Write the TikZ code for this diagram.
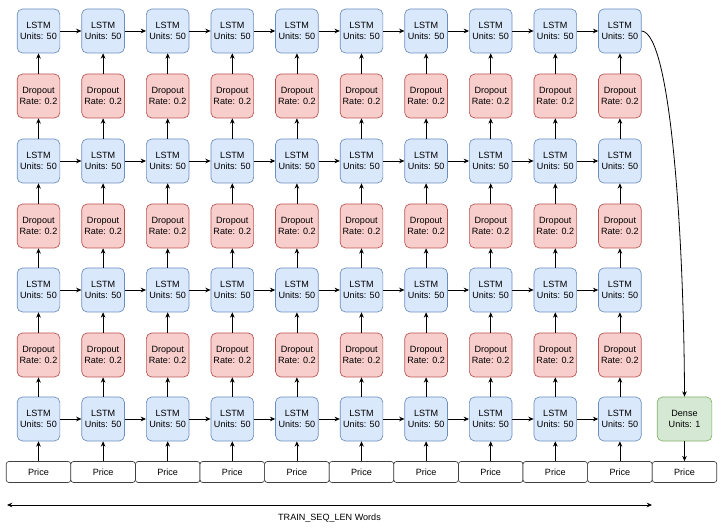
\documentclass[tikz,border=0pt]{standalone}
\usepackage{fontspec}
\setmainfont{Liberation Sans}
\usetikzlibrary{arrows.meta}

\definecolor{lstmfill}{HTML}{DAE8FC}
\definecolor{lstmline}{HTML}{6C8EBF}
\definecolor{dropfill}{HTML}{F8CECC}
\definecolor{dropline}{HTML}{B85450}
\definecolor{densefill}{HTML}{D5E8D4}
\definecolor{denseline}{HTML}{82B366}

\tikzset{
	box/.style={rounded corners=4pt, line width=0.5pt, align=center, font=\fontsize{6.8}{8.4}\selectfont, inner sep=0pt},
	lstm/.style={box, fill=lstmfill, draw=lstmline, minimum width=32pt, minimum height=33pt},
	drop/.style={box, fill=dropfill, draw=dropline, minimum width=32pt, minimum height=33pt},
	dense/.style={box, fill=densefill, draw=denseline, minimum width=41pt, minimum height=33pt},
	price/.style={box, rounded corners=2pt, fill=white, draw=black!75, minimum width=48.4pt, minimum height=15.75pt},
	link/.style={-{Stealth[length=4pt,width=3.5pt]}, line width=0.6pt}
}

\begin{document}
\begin{tikzpicture}[x=0.75pt, y=-0.75pt]
	\useasboundingbox (0,0) rectangle (724,530);

	% Входы и слои по столбцам
	\foreach \i in {0,...,9} {
		\pgfmathsetmacro{\cx}{38.5+64.6*\i}
		\node[price] (price\i) at (\cx, 472) {Price};
		\node[lstm] (lstmA\i) at (\cx, 419) {LSTM\\Units: 50};
		\node[drop] (dropA\i) at (\cx, 355) {Dropout\\Rate: 0.2};
		\node[lstm] (lstmB\i) at (\cx, 290) {LSTM\\Units: 50};
		\node[drop] (dropB\i) at (\cx, 226) {Dropout\\Rate: 0.2};
		\node[lstm] (lstmC\i) at (\cx, 161) {LSTM\\Units: 50};
		\node[drop] (dropC\i) at (\cx, 96) {Dropout\\Rate: 0.2};
		\node[lstm] (lstmD\i) at (\cx, 31) {LSTM\\Units: 50};

		\draw[link] (price\i) -- (lstmA\i);
		\draw[link] (lstmA\i) -- (dropA\i);
		\draw[link] (dropA\i) -- (lstmB\i);
		\draw[link] (lstmB\i) -- (dropB\i);
		\draw[link] (dropB\i) -- (lstmC\i);
		\draw[link] (lstmC\i) -- (dropC\i);
		\draw[link] (dropC\i) -- (lstmD\i);
	}

	% Связи по времени
	\foreach \i [count=\j] in {0,...,8} {
		\draw[link] (lstmA\i) -- (lstmA\j);
		\draw[link] (lstmB\i) -- (lstmB\j);
		\draw[link] (lstmC\i) -- (lstmC\j);
		\draw[link] (lstmD\i) -- (lstmD\j);
	}

	% Выход
	\node[dense] (dense) at (684.5, 419) {Dense\\Units: 1};
	\node[price] (priceOut) at (684.5, 472) {Price};
	\draw[link] (lstmD9.east) .. controls (672,33) and (684,250) .. (dense.north);
	\draw[link] (dense) -- (priceOut);

	% Длина окна
	\coordinate (winL) at (7, 505);
	\coordinate (winR) at (652, 505);
	\draw[{Stealth[length=4pt,width=3.5pt]}-{Stealth[length=4pt,width=3.5pt]}, line width=0.6pt] (winL) -- (winR)
		node[midway, below=3pt, font=\fontsize{6.8}{8.4}\selectfont] (winLabel) {TRAIN\_SEQ\_LEN Words};
\end{tikzpicture}
\end{document}
